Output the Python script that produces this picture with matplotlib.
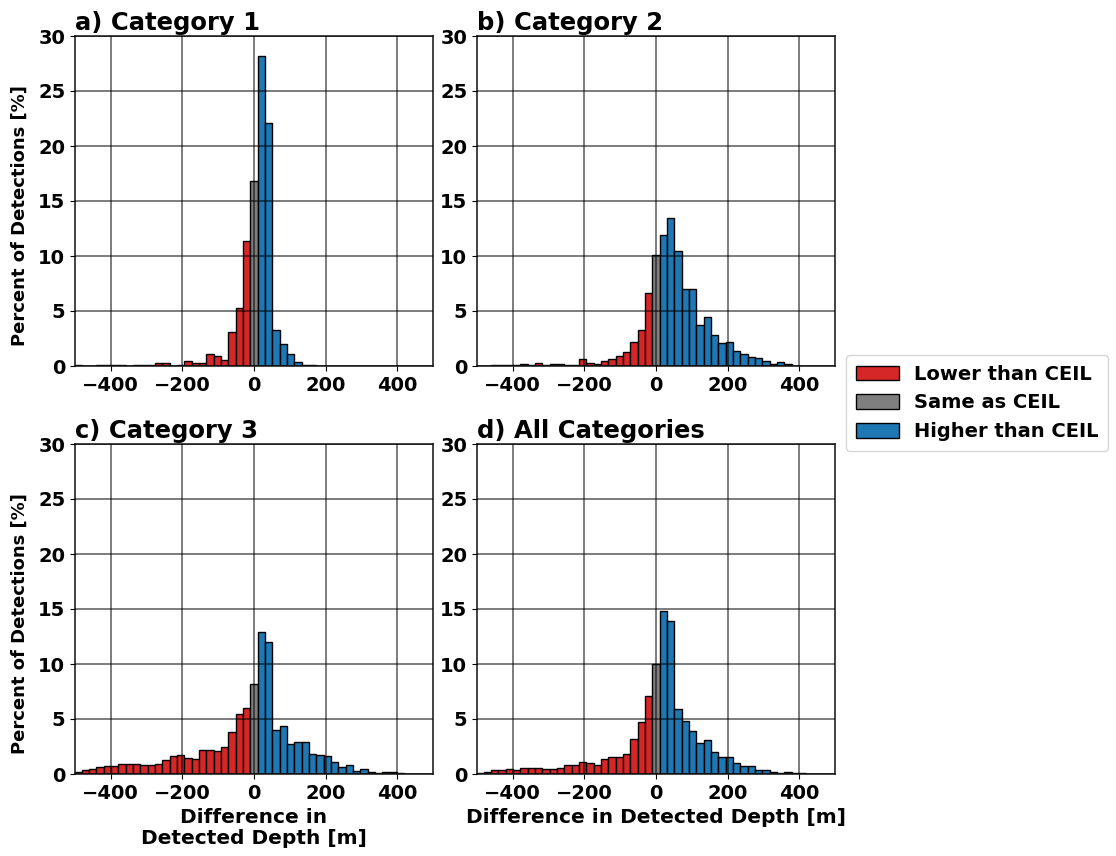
import numpy as np
import matplotlib
matplotlib.use("Agg")
import matplotlib.pyplot as plt
from matplotlib.patches import Patch

plt.rcParams["font.family"] = ["DejaVu Sans"]
plt.rcParams["font.weight"] = "bold"

# Histogram bins: offsets (in bin units) from zero difference
BIN_WIDTH = 20.5
bin_offsets = list(range(-24, 21))

# Percent of detections per bin, one list per category
cat1_pct = [0.06, 0, 0, 0.05, 0.05, 0.05, 0.05, 0, 0.05, 0.05, 0.05, 0.3, 0.3,
            0, 0.1, 0.45, 0.3, 0.3, 1.05, 0.95, 0.55, 3.05, 5.3, 11.4,
            16.8,
            28.2, 22.1, 3.3, 2.0, 1.1, 0.35, 0.06, 0.06, 0, 0, 0, 0, 0, 0, 0, 0, 0, 0, 0, 0]
cat2_pct = [0, 0, 0.05, 0.05, 0.05, 0.05, 0.2, 0.05, 0.3, 0.05, 0.15, 0.15, 0.05,
            0.05, 0.68, 0.28, 0.2, 0.43, 0.68, 0.95, 1.3, 2.2, 3.3, 6.6,
            10.1,
            11.9, 13.45, 10.5, 7.0, 7.0, 3.7, 4.42, 2.85, 2.1, 2.2, 1.33, 1.07, 0.85,
            0.7, 0.47, 0.22, 0.35, 0.22, 0, 0]
cat3_pct = [0.21, 0.34, 0.46, 0.61, 0.7, 0.7, 0.95, 0.95, 0.95, 0.82, 0.82, 0.95,
            1.31, 1.6, 1.72, 1.5, 1.34, 2.22, 2.22, 2.07, 2.47, 3.81, 5.43, 6.04,
            8.17,
            12.9, 12.0, 3.96, 4.33, 2.71, 2.93, 2.93, 1.86, 1.74, 1.62, 1.07, 0.61,
            0.85, 0.24, 0.49, 0.21, 0.09, 0.18, 0.18, 0.09]
all_pct = [0.1, 0.2, 0.32, 0.32, 0.46, 0.34, 0.56, 0.56, 0.56, 0.5, 0.43, 0.59,
           0.8, 0.8, 1.1, 0.96, 0.8, 1.35, 1.57, 1.57, 1.82, 3.22, 4.7, 7.07,
           10.0,
           14.8, 13.9, 5.95, 4.85, 3.95, 2.84, 3.08, 1.98, 1.58, 1.58, 0.97, 0.69,
           0.69, 0.35, 0.35, 0.2, 0.1, 0.21, 0.1, 0.08]

panel_titles = ["a) Category 1", "b) Category 2", "c) Category 3", "d) All Categories"]
panel_data = [cat1_pct, cat2_pct, cat3_pct, all_pct]
legend_labels = ["Lower than CEIL", "Same as CEIL", "Higher than CEIL"]
x_ticks = [-400, -200, 0, 200, 400]
y_ticks = [0, 5, 10, 15, 20, 25, 30]

COLOR_LOW = "#d62728"
COLOR_SAME = "#7f7f7f"
COLOR_HIGH = "#1f77b4"

W, H = 1116, 856
fig = plt.figure(figsize=(W / 100, H / 100), dpi=100)

# axes boxes in pixels: left, top, right, bottom
boxes = [(75, 36, 433, 366), (477, 36, 835, 366),
         (75, 444, 433, 774), (477, 444, 835, 774)]

centers = np.array(bin_offsets) * BIN_WIDTH

for i, (title, pct) in enumerate(zip(panel_titles, panel_data)):
    l, t, r, b = boxes[i]
    ax = fig.add_axes([l / W, 1 - b / H, (r - l) / W, (b - t) / H])
    pct = np.array(pct, dtype=float)
    keep = pct > 0
    colors = np.where(centers < 0, COLOR_LOW, np.where(centers > 0, COLOR_HIGH, COLOR_SAME))
    ax.bar(centers[keep], pct[keep], width=BIN_WIDTH, color=colors[keep],
           edgecolor="black", linewidth=1.0, zorder=1)
    ax.set_xlim(-500, 500)
    ax.set_ylim(0, 30)
    ax.set_xticks(x_ticks)
    ax.set_yticks(y_ticks)
    ax.grid(True, color="black", alpha=0.65, linewidth=1.1, zorder=3)
    ax.set_axisbelow(False)
    for sp in ax.spines.values():
        sp.set_linewidth(1.2)
        sp.set_color("#222222")
    ax.tick_params(labelsize=14)
    for lab in ax.get_xticklabels() + ax.get_yticklabels():
        lab.set_fontweight("bold")
    ax.set_title(title, loc="left", fontsize=17.5, fontweight="bold", pad=4)
    if i in (0, 2):
        ax.set_ylabel("Percent of Detections [%]", fontsize=13, fontweight="bold")
        ax.yaxis.set_label_coords(-0.128, 0.455)
    if i == 2:
        ax.set_xlabel("Difference in\nDetected Depth [m]", fontsize=14.5,
                      fontweight="bold", linespacing=1.1)
    if i == 3:
        ax.set_xlabel("Difference in Detected Depth [m]", fontsize=14.5,
                      fontweight="bold")

handles = [Patch(facecolor=c, edgecolor="black", linewidth=1.0)
           for c in (COLOR_LOW, COLOR_SAME, COLOR_HIGH)]
fig.legend(handles, legend_labels, loc="center left",
           bbox_to_anchor=(846 / W, 1 - 403 / H), borderaxespad=0,
           prop={"weight": "bold", "size": 14}, frameon=True,
           handlelength=2.2, handleheight=0.8, borderpad=0.5, labelspacing=0.5)

fig.savefig("out.png", dpi=100)
